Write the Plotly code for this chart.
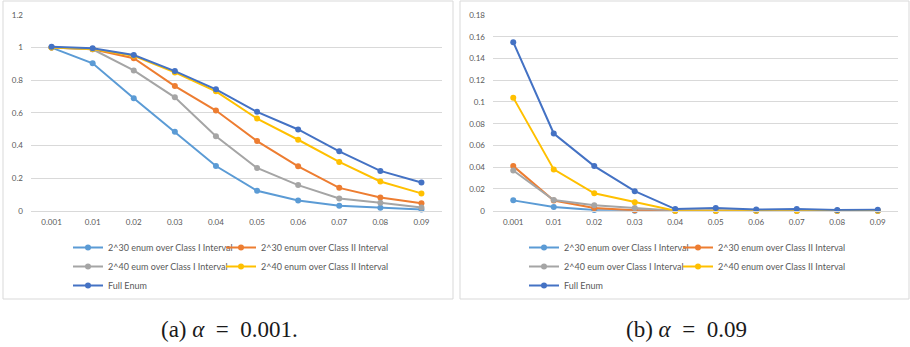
import plotly.graph_objects as go

# ---------------- data ----------------
categories = ["0.001", "0.01", "0.02", "0.03", "0.04", "0.05", "0.06", "0.07", "0.08", "0.09"]

series_names = [
    "2^30 enum over Class I Interval",
    "2^30 enum over Class II Interval",
    "2^40 eum over Class I Interval",
    "2^40 enum over Class II Interval",
    "Full Enum",
]
series_colors = ["#5B9BD5", "#ED7D31", "#A5A5A5", "#FFC000", "#4472C4"]

# (a) alpha = 0.001
a_30_c1 = [1.0, 0.904, 0.689, 0.484, 0.274, 0.122, 0.063, 0.030, 0.018, 0.008]
a_30_c2 = [1.0, 0.990, 0.935, 0.764, 0.614, 0.427, 0.272, 0.140, 0.081, 0.045]
a_40_c1 = [1.0, 0.990, 0.860, 0.695, 0.457, 0.262, 0.157, 0.075, 0.049, 0.020]
a_40_c2 = [1.0, 0.992, 0.950, 0.848, 0.732, 0.565, 0.435, 0.299, 0.179, 0.106]
a_full = [1.005, 0.996, 0.955, 0.856, 0.744, 0.606, 0.498, 0.364, 0.244, 0.173]

# (b) alpha = 0.09
b_30_c1 = [0.0095, 0.0033, 0.0006, 0.0, 0.0, 0.0, 0.0, 0.0, 0.0, 0.0]
b_30_c2 = [0.041, 0.0093, 0.0025, 0.0003, 0.0, 0.0, 0.0, 0.0, 0.0, 0.0]
b_40_c1 = [0.037, 0.0098, 0.005, 0.0025, 0.0, 0.0, 0.0, 0.0, 0.0, 0.0]
b_40_c2 = [0.104, 0.038, 0.016, 0.0077, 0.0, 0.0, 0.0, 0.0, 0.0, 0.0]
b_full = [0.155, 0.071, 0.041, 0.018, 0.0015, 0.0025, 0.001, 0.0015, 0.0006, 0.0008]

left_ticks = [0, 0.2, 0.4, 0.6, 0.8, 1, 1.2]
left_ticklabels = ["0", "0.2", "0.4", "0.6", "0.8", "1", "1.2"]
right_ticks = [0, 0.02, 0.04, 0.06, 0.08, 0.1, 0.12, 0.14, 0.16, 0.18]
right_ticklabels = ["0", "0.02", "0.04", "0.06", "0.08", "0.1", "0.12", "0.14", "0.16", "0.18"]

captions = ["(a) <i>α</i>&nbsp;&nbsp;=&nbsp;&nbsp;0.001.", "(b) <i>α</i>&nbsp;&nbsp;=&nbsp;&nbsp;0.09"]

# ---------------- figure ----------------
W, H = 910, 347
FONT = "Lato"
TICK_COLOR = "#595959"
GRID = "#D9D9D9"

fig = go.Figure()

left_series = [a_30_c1, a_30_c2, a_40_c1, a_40_c2, a_full]
right_series = [b_30_c1, b_30_c2, b_40_c1, b_40_c2, b_full]
# legend columns: entries 0,2,4 in first column, 1,3 in second
left_leg = ["legend", "legend2", "legend", "legend2", "legend"]
right_leg = ["legend3", "legend4", "legend3", "legend4", "legend3"]

for vals, name, col, lg in zip(left_series, series_names, series_colors, left_leg):
    fig.add_trace(go.Scatter(
        x=categories, y=vals, name=name, mode="lines+markers",
        line=dict(color=col, width=2), marker=dict(color=col, size=6),
        xaxis="x", yaxis="y", legend=lg, cliponaxis=False,
    ))
for vals, name, col, lg in zip(right_series, series_names, series_colors, right_leg):
    fig.add_trace(go.Scatter(
        x=categories, y=vals, name=name, mode="lines+markers",
        line=dict(color=col, width=2), marker=dict(color=col, size=6),
        xaxis="x2", yaxis="y2", legend=lg, cliponaxis=False,
    ))

y_dom = [1 - 210.7 / H, 1 - 15 / H]

def xaxis_cfg(dom, anchor):
    return dict(
        domain=dom, anchor=anchor, type="category", range=[-0.5, 9.5],
        showgrid=False, showline=True, linecolor=GRID, linewidth=1,
        ticks="", tickfont=dict(family=FONT, size=8, color=TICK_COLOR),
        ticklabelstandoff=4, zeroline=False, fixedrange=True,
    )

def yaxis_cfg(rng, tv, tt, anchor):
    return dict(
        domain=y_dom, anchor=anchor, range=rng, tickvals=tv, ticktext=tt,
        showgrid=True, gridcolor=GRID, gridwidth=1, zeroline=False,
        showline=False, ticks="", ticklabelstandoff=7,
        tickfont=dict(family=FONT, size=8, color=TICK_COLOR), fixedrange=True,
    )

leg_common = dict(
    orientation="v", bgcolor="rgba(0,0,0,0)", borderwidth=0,
    font=dict(family=FONT, size=9, color=TICK_COLOR),
    xanchor="left", yanchor="top", itemwidth=30, tracegroupgap=0,
    itemclick=False, itemdoubleclick=False,
)
leg_top = 1 - 233 / H

fig.update_layout(
    width=W, height=H,
    margin=dict(l=0, r=0, t=0, b=0, autoexpand=False),
    paper_bgcolor="white", plot_bgcolor="white",
    xaxis=xaxis_cfg([31 / W, 442 / W], "y"),
    yaxis=yaxis_cfg([0, 1.2], left_ticks, left_ticklabels, "x"),
    xaxis2=xaxis_cfg([493 / W, 898 / W], "y2"),
    yaxis2=yaxis_cfg([0, 0.18], right_ticks, right_ticklabels, "x2"),
    legend=dict(leg_common, x=68 / W, y=leg_top),
    legend2=dict(leg_common, x=221 / W, y=leg_top),
    legend3=dict(leg_common, x=524 / W, y=leg_top),
    legend4=dict(leg_common, x=678 / W, y=leg_top),
    showlegend=True,
)

# panel frames
for x0, x1 in [(3, 453), (460, 909)]:
    fig.add_shape(type="rect", xref="paper", yref="paper",
                  x0=x0 / W, x1=x1 / W, y0=1 - 299 / H, y1=1 - 1 / H,
                  line=dict(color=GRID, width=1), fillcolor="rgba(0,0,0,0)", layer="below")

# captions
for cx, txt in [(229, captions[0]), (686, captions[1])]:
    fig.add_annotation(x=cx / W, y=1 - 329 / H, xref="paper", yref="paper",
                       text=txt, showarrow=False, xanchor="center", yanchor="middle",
                       font=dict(family="Liberation Serif", size=23, color="#1a1a1a"))

fig.write_html(
    "out.html",
    config={"displayModeBar": False},
    post_script="document.body.style.margin='0';document.body.style.overflow='hidden';",
)
